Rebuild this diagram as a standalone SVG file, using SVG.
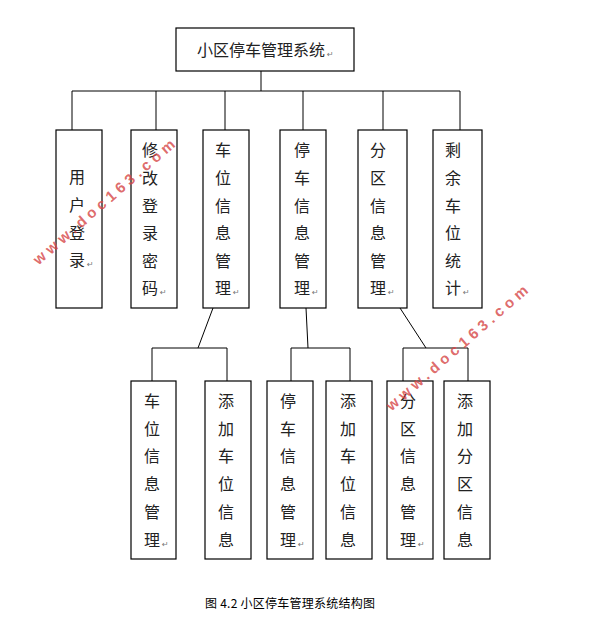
<svg xmlns="http://www.w3.org/2000/svg" width="590" height="621" viewBox="0 0 590 621">
<style>
.box{fill:#fff;stroke:#000;stroke-width:1.2}
.ln{fill:none;stroke:#000;stroke-width:1}
.t{font-family:"Noto Sans CJK SC","Noto Sans CJK JP",sans-serif;font-size:16px;fill:#222;text-anchor:middle}
.pm{font-family:"DejaVu Sans",sans-serif;font-size:8px;fill:#777}
.wm{font-family:"Liberation Sans",Arial,sans-serif;font-size:15px;font-weight:bold;fill:#d64545;fill-opacity:0.8}
.cap{font-family:"Noto Sans CJK SC",sans-serif;font-size:12px;fill:#000}
</style>
<rect width="590" height="621" fill="#fff"/>
<g id="connectors">
<path class="ln" d="M261 71V91M72 91H460M72 91V130M156 91V130M225 91V130M303 91V130M383 91V130M460 91V130"/>
<path class="ln" d="M213 308L198 348M152 348H227M152 348V381M227 348V381"/>
<path class="ln" d="M306 308L308 348M291 348H350M291 348V381M350 348V381"/>
<path class="ln" d="M400 308L426 348M403 348H468M403 348V381M468 348V381"/>
</g>
<g id="root">
<rect class="box" x="176" y="28" width="178" height="43"/>
<text class="t" x="261" y="56">小区停车管理系统</text>
<text class="pm" x="327" y="57">↵</text>
</g>
<g id="n1">
<rect class="box" x="56" y="130" width="46" height="178"/>
<text class="t"><tspan x="77" y="183">用</tspan><tspan x="77" y="211">户</tspan><tspan x="77" y="239">登</tspan><tspan x="77" y="266">录</tspan></text>
<text class="pm" x="87" y="267">↵</text>
</g>
<g id="n2">
<rect class="box" x="131" y="130" width="46" height="178"/>
<text class="t"><tspan x="150" y="156">修</tspan><tspan x="150" y="184">改</tspan><tspan x="150" y="211.5">登</tspan><tspan x="150" y="239">录</tspan><tspan x="150" y="267">密</tspan><tspan x="150" y="294">码</tspan></text>
<text class="pm" x="160" y="295">↵</text>
</g>
<g id="n3">
<rect class="box" x="203" y="130" width="46" height="178"/>
<text class="t"><tspan x="223" y="156">车</tspan><tspan x="223" y="184">位</tspan><tspan x="223" y="211.5">信</tspan><tspan x="223" y="239">息</tspan><tspan x="223" y="267">管</tspan><tspan x="223" y="294">理</tspan></text>
<text class="pm" x="233" y="295">↵</text>
</g>
<g id="n4">
<rect class="box" x="280" y="130" width="46" height="178"/>
<text class="t"><tspan x="302" y="156">停</tspan><tspan x="302" y="184">车</tspan><tspan x="302" y="211.5">信</tspan><tspan x="302" y="239">息</tspan><tspan x="302" y="267">管</tspan><tspan x="302" y="294">理</tspan></text>
<text class="pm" x="312" y="295">↵</text>
</g>
<g id="n5">
<rect class="box" x="358" y="130" width="49" height="178"/>
<text class="t"><tspan x="378" y="156">分</tspan><tspan x="378" y="184">区</tspan><tspan x="378" y="211.5">信</tspan><tspan x="378" y="239">息</tspan><tspan x="378" y="267">管</tspan><tspan x="378" y="294">理</tspan></text>
<text class="pm" x="388" y="295">↵</text>
</g>
<g id="n6">
<rect class="box" x="433" y="130" width="49" height="178"/>
<text class="t"><tspan x="453" y="156">剩</tspan><tspan x="453" y="184">余</tspan><tspan x="453" y="211.5">车</tspan><tspan x="453" y="239">位</tspan><tspan x="453" y="267">统</tspan><tspan x="453" y="294">计</tspan></text>
<text class="pm" x="463" y="295">↵</text>
</g>
<g id="n31">
<rect class="box" x="131" y="381" width="45" height="178"/>
<text class="t"><tspan x="152" y="407">车</tspan><tspan x="152" y="434.5">位</tspan><tspan x="152" y="462">信</tspan><tspan x="152" y="490">息</tspan><tspan x="152" y="518">管</tspan><tspan x="152" y="546">理</tspan></text>
<text class="pm" x="162" y="547">↵</text>
</g>
<g id="n32">
<rect class="box" x="205" y="381" width="46" height="178"/>
<text class="t"><tspan x="226" y="407">添</tspan><tspan x="226" y="434.5">加</tspan><tspan x="226" y="462">车</tspan><tspan x="226" y="490">位</tspan><tspan x="226" y="518">信</tspan><tspan x="226" y="546">息</tspan></text>
</g>
<g id="n41">
<rect class="box" x="267" y="381" width="46" height="178"/>
<text class="t"><tspan x="288" y="407">停</tspan><tspan x="288" y="434.5">车</tspan><tspan x="288" y="462">信</tspan><tspan x="288" y="490">息</tspan><tspan x="288" y="518">管</tspan><tspan x="288" y="546">理</tspan></text>
<text class="pm" x="298" y="547">↵</text>
</g>
<g id="n42">
<rect class="box" x="326" y="381" width="46" height="178"/>
<text class="t"><tspan x="348" y="407">添</tspan><tspan x="348" y="434.5">加</tspan><tspan x="348" y="462">车</tspan><tspan x="348" y="490">位</tspan><tspan x="348" y="518">信</tspan><tspan x="348" y="546">息</tspan></text>
</g>
<g id="n51">
<rect class="box" x="387" y="381" width="46" height="178"/>
<text class="t"><tspan x="408" y="407">分</tspan><tspan x="408" y="434.5">区</tspan><tspan x="408" y="462">信</tspan><tspan x="408" y="490">息</tspan><tspan x="408" y="518">管</tspan><tspan x="408" y="546">理</tspan></text>
<text class="pm" x="418" y="547">↵</text>
</g>
<g id="n52">
<rect class="box" x="444" y="381" width="46" height="178"/>
<text class="t"><tspan x="465" y="407">添</tspan><tspan x="465" y="434.5">加</tspan><tspan x="465" y="462">分</tspan><tspan x="465" y="490">区</tspan><tspan x="465" y="518">信</tspan><tspan x="465" y="546">息</tspan></text>
</g>
<g id="watermarks">
<text class="wm" x="0" y="5" text-anchor="middle" textLength="182" lengthAdjust="spacing" transform="translate(104 202) rotate(-41)">www.doc163.com</text>
<text class="wm" x="0" y="5" text-anchor="middle" textLength="182" lengthAdjust="spacing" transform="translate(457 348) rotate(-41)">www.doc163.com</text>
</g>
<text class="cap" x="205" y="608" textLength="170" lengthAdjust="spacing">图 4.2 小区停车管理系统结构图</text>
</svg>
